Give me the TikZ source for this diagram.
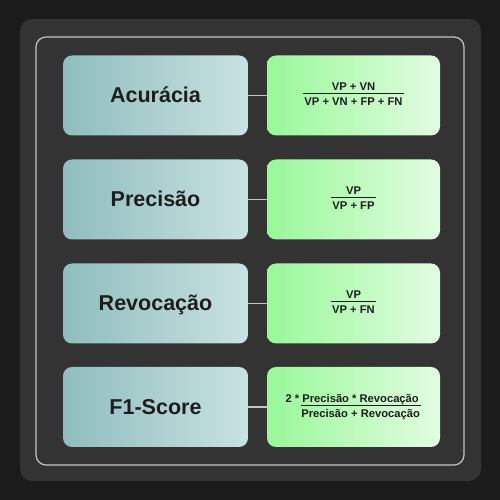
\documentclass[tikz,border=0pt]{standalone}
\usepackage{fontspec}
\setmainfont{Liberation Sans}
\definecolor{bgdark}{HTML}{1B1B1B}
\definecolor{panel}{HTML}{333333}
\definecolor{rim}{HTML}{C4C4C4}
\definecolor{tealL}{HTML}{8FBDBD}
\definecolor{tealR}{HTML}{C9E2E2}
\definecolor{greenL}{HTML}{98F898}
\definecolor{greenR}{HTML}{E2FDE2}
\definecolor{ink}{HTML}{1E1E1E}
\renewcommand\arraystretch{0.6}
\setlength\arrayrulewidth{1pt}
\begin{document}
\begin{tikzpicture}[x=1pt,y=1pt,
    metric/.style={rounded corners=9pt, left color=tealL, right color=tealR,
      minimum width=185pt, minimum height=80pt, text=ink,
      font=\fontsize{21.5}{25}\selectfont\bfseries, text height=15pt, text depth=0pt},
    formula/.style={rounded corners=9pt, left color=greenL, right color=greenR,
      minimum width=173pt, minimum height=80pt, text=ink,
      font=\fontsize{11.2}{13.4}\selectfont\bfseries},
    link/.style={draw=rim, line width=1.3pt}]
      \fill[bgdark] (0,0) rectangle (500,500);
      \fill[panel, rounded corners=12pt] (20,19) rectangle (481,481);
      \draw[rim, line width=1.2pt, rounded corners=10pt] (36,35) rectangle (464,463);

      \node[metric] (A) at (155.5,404.5) {Acurácia};
      \node[metric] (P) at (155.5,300.5) {Precisão};
      \node[metric] (R) at (155.5,196.5) {Revocação};
      \node[metric] (F) at (155.5,93) {F1-Score};

      \node[formula] (Af) at (353.5,404.5) {\begin{tabular}{@{\hspace{1.5pt}}c@{\hspace{1.5pt}}}
          VP + VN\\\hline\rule{0pt}{12pt}VP + VN + FP + FN\end{tabular}};
      \node[formula] (Pf) at (353.5,300.5) {\begin{tabular}{@{\hspace{1.5pt}}c@{\hspace{1.5pt}}}
          VP\\\hline\rule{0pt}{12pt}VP + FP\end{tabular}};
      \node[formula] (Rf) at (353.5,196.5) {\begin{tabular}{@{\hspace{1.5pt}}c@{\hspace{1.5pt}}}
          VP\\\hline\rule{0pt}{12pt}VP + FN\end{tabular}};
      \node[formula] (Ff) at (353.5,93) {\begin{tabular}{@{}r@{\hspace{2pt}}c@{\hspace{1.5pt}}}
          2 * & Precisão * Revocação\\\cline{2-2} & \rule{0pt}{12pt}Precisão + Revocação\end{tabular}};

      \path (A) edge[link] (Af); \path (P) edge[link] (Pf);
      \path (R) edge[link] (Rf); \path (F) edge[link] (Ff);
    \end{tikzpicture}
\end{document}
